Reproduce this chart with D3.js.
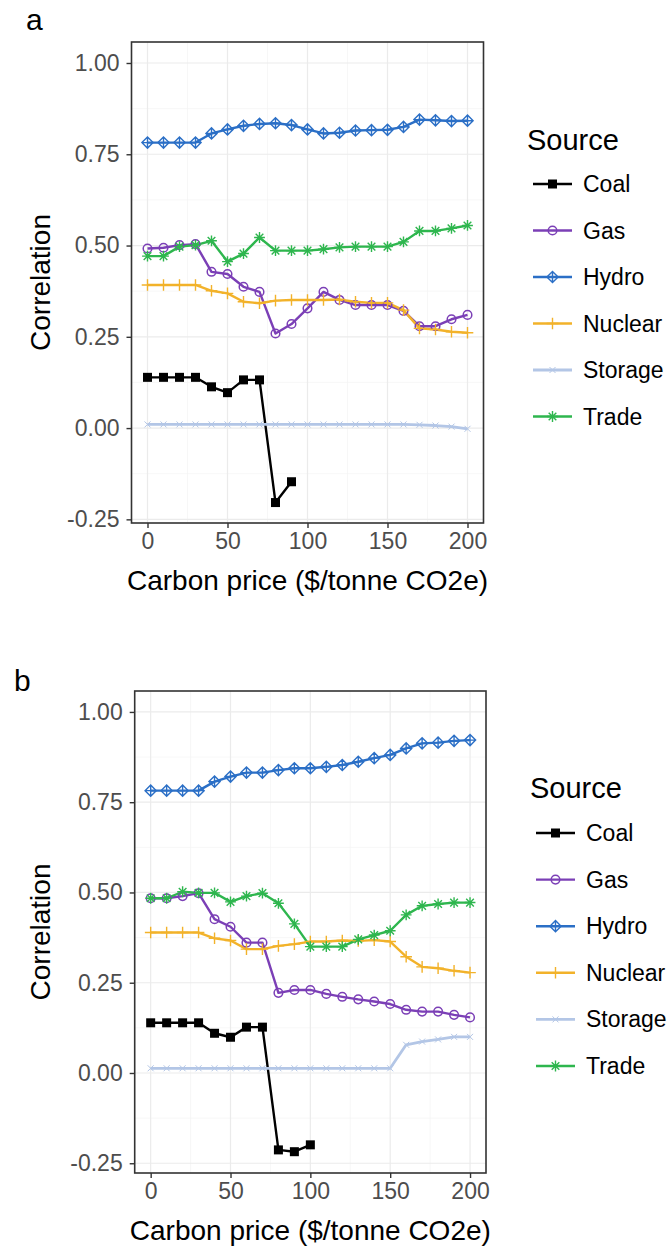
<!DOCTYPE html>
<html>
<head>
<meta charset="utf-8">
<script src="https://cdn.jsdelivr.net/npm/d3@7"></script>
<style>
  html, body { margin: 0; padding: 0; background: #fff; }
  svg { display: block; }
  text { font-family: "Liberation Sans", Arial, Helvetica, sans-serif; }
</style>
</head>
<body>
<svg id="chart" width="670" height="1249"></svg>
<script>
// Carbon price levels ($/tonne CO2e)
const carbonPrice = [0,10,20,30,40,50,60,70,80,90,100,110,120,130,140,150,160,170,180,190,200];

const sources = ["Coal", "Gas", "Hydro", "Nuclear", "Storage", "Trade"];

// Panel a: correlation by source
const coalA    = [0.139,0.139,0.139,0.139,0.113,0.097,0.132,0.132,-0.204,-0.147];
const gasA     = [0.492,0.494,0.501,0.504,0.428,0.422,0.387,0.373,0.259,0.285,0.328,0.373,0.351,0.337,0.337,0.337,0.321,0.279,0.279,0.298,0.310];
const hydroA   = [0.782,0.782,0.782,0.782,0.807,0.818,0.828,0.833,0.835,0.830,0.818,0.807,0.809,0.815,0.816,0.817,0.825,0.845,0.843,0.841,0.842];
const nuclearA = [0.392,0.392,0.392,0.392,0.376,0.369,0.346,0.342,0.349,0.351,0.351,0.351,0.352,0.346,0.343,0.343,0.323,0.273,0.270,0.264,0.261];
const storageA = [0.010,0.010,0.010,0.010,0.010,0.010,0.010,0.010,0.010,0.010,0.010,0.010,0.010,0.010,0.010,0.010,0.010,0.009,0.007,0.004,-0.002];
const tradeA   = [0.471,0.471,0.497,0.501,0.513,0.456,0.478,0.522,0.486,0.486,0.486,0.490,0.495,0.497,0.497,0.497,0.510,0.540,0.540,0.547,0.555];

// Panel b: correlation by source
const coalB    = [0.139,0.139,0.139,0.139,0.110,0.099,0.127,0.127,-0.213,-0.218,-0.199];
const gasB     = [0.484,0.484,0.490,0.498,0.426,0.405,0.361,0.361,0.222,0.230,0.230,0.219,0.211,0.204,0.198,0.191,0.175,0.170,0.170,0.161,0.154];
const hydroB   = [0.782,0.782,0.782,0.782,0.807,0.821,0.832,0.832,0.839,0.844,0.844,0.848,0.853,0.862,0.872,0.881,0.899,0.913,0.915,0.920,0.922];
const nuclearB = [0.389,0.389,0.389,0.389,0.373,0.367,0.343,0.343,0.352,0.357,0.364,0.364,0.367,0.366,0.368,0.364,0.322,0.294,0.290,0.283,0.278];
const storageB = [0.013,0.013,0.013,0.013,0.013,0.013,0.013,0.013,0.013,0.013,0.013,0.013,0.013,0.013,0.013,0.013,0.078,0.087,0.093,0.100,0.100];
const tradeB   = [0.484,0.484,0.502,0.499,0.499,0.474,0.490,0.498,0.470,0.413,0.350,0.350,0.350,0.370,0.382,0.394,0.438,0.463,0.468,0.472,0.472];

// Axis ticks
const xTicks = [0, 50, 100, 150, 200];
const yTicks = [-0.25, 0, 0.25, 0.5, 0.75, 1.0];
const yTickLabels = ["-0.25", "0.00", "0.25", "0.50", "0.75", "1.00"];

const colors = {
  Coal: "#000000",
  Gas: "#7b3fb6",
  Hydro: "#2b6fc6",
  Nuclear: "#f2b22a",
  Storage: "#b3c6e6",
  Trade: "#2eb64e"
};

const svg = d3.select("#chart");

// Marker glyphs per source
function marker(g, src, x, y) {
  const c = colors[src];
  if (src === "Coal") {
    g.append("rect").attr("x", x - 4.5).attr("y", y - 4.5).attr("width", 9).attr("height", 9).attr("fill", c);
  } else if (src === "Gas") {
    g.append("circle").attr("cx", x).attr("cy", y).attr("r", 4.3).attr("fill", "none").attr("stroke", c).attr("stroke-width", 1.5);
  } else if (src === "Hydro") {
    const r = 5.6;
    g.append("path").attr("d", `M${x},${y - r}L${x + r},${y}L${x},${y + r}L${x - r},${y}Z M${x},${y - r}V${y + r} M${x - r},${y}H${x + r}`)
      .attr("fill", "none").attr("stroke", c).attr("stroke-width", 1.4);
  } else if (src === "Nuclear") {
    const r = 5.8;
    g.append("path").attr("d", `M${x},${y - r}V${y + r} M${x - r},${y}H${x + r}`)
      .attr("fill", "none").attr("stroke", c).attr("stroke-width", 1.4);
  } else if (src === "Storage") {
    const r = 3;
    g.append("path").attr("d", `M${x - r},${y - r}L${x + r},${y + r} M${x - r},${y + r}L${x + r},${y - r}`)
      .attr("fill", "none").attr("stroke", c).attr("stroke-width", 1);
  } else if (src === "Trade") {
    const r = 5.4, d = r * 0.707;
    g.append("path").attr("d", `M${x},${y - r}V${y + r} M${x - r},${y}H${x + r} M${x - d},${y - d}L${x + d},${y + d} M${x - d},${y + d}L${x + d},${y - d}`)
      .attr("fill", "none").attr("stroke", c).attr("stroke-width", 1.4);
  }
}

function drawPanel(opt) {
  const { label, labelPos, xRange, yDomain, yRange, series, legend } = opt;
  const x = d3.scaleLinear().domain([-10, 210]).range(xRange);
  const y = d3.scaleLinear().domain(yDomain).range(yRange);
  const [left, right] = xRange;
  const [bottom, top] = yRange;
  const g = svg.append("g");

  // panel background and grid
  g.append("rect").attr("x", left).attr("y", top).attr("width", right - left).attr("height", bottom - top).attr("fill", "#fff");
  const xMinor = [25, 75, 125, 175];
  const yMinor = [-0.125, 0.125, 0.375, 0.625, 0.875];
  g.selectAll(".xminor").data(xMinor).enter().append("line")
    .attr("x1", d => x(d)).attr("x2", d => x(d)).attr("y1", top).attr("y2", bottom)
    .attr("stroke", "#f3f3f3").attr("stroke-width", 0.7);
  g.selectAll(".yminor").data(yMinor).enter().append("line")
    .attr("y1", d => y(d)).attr("y2", d => y(d)).attr("x1", left).attr("x2", right)
    .attr("stroke", "#f3f3f3").attr("stroke-width", 0.7);
  g.selectAll(".xmajor").data(xTicks).enter().append("line")
    .attr("x1", d => x(d)).attr("x2", d => x(d)).attr("y1", top).attr("y2", bottom)
    .attr("stroke", "#ebebeb").attr("stroke-width", 1.2);
  g.selectAll(".ymajor").data(yTicks).enter().append("line")
    .attr("y1", d => y(d)).attr("y2", d => y(d)).attr("x1", left).attr("x2", right)
    .attr("stroke", "#ebebeb").attr("stroke-width", 1.2);

  // lines
  const line = d3.line().x(d => x(d[0])).y(d => y(d[1]));
  sources.forEach(src => {
    const vals = series[src];
    const pts = vals.map((v, i) => [carbonPrice[i], v]);
    g.append("path").datum(pts).attr("d", line)
      .attr("fill", "none").attr("stroke", colors[src])
      .attr("stroke-width", src === "Storage" ? 2.8 : 2.4).attr("stroke-linejoin", "round");
  });
  // points
  sources.forEach(src => {
    const vals = series[src];
    vals.forEach((v, i) => marker(g, src, x(carbonPrice[i]), y(v)));
  });

  // border
  g.append("rect").attr("x", left).attr("y", top).attr("width", right - left).attr("height", bottom - top)
    .attr("fill", "none").attr("stroke", "#333").attr("stroke-width", 1.6);

  // axes
  const xAxis = d3.axisBottom(x).tickValues(xTicks).tickSize(5).tickPadding(5).tickFormat(d3.format("d"));
  const xa = g.append("g").attr("transform", `translate(0,${bottom})`).call(xAxis);
  xa.select(".domain").remove();
  xa.selectAll(".tick line").attr("stroke", "#333").attr("stroke-width", 1.4);
  xa.selectAll(".tick text").attr("fill", "#4d4d4d").style("font-size", "23px")
    .style("font-family", "'Liberation Sans', Arial, sans-serif");

  const yAxis = d3.axisLeft(y).tickValues(yTicks).tickSize(5).tickPadding(7).tickFormat((d, i) => yTickLabels[i]);
  const ya = g.append("g").attr("transform", `translate(${left},0)`).call(yAxis);
  ya.select(".domain").remove();
  ya.selectAll(".tick line").attr("stroke", "#333").attr("stroke-width", 1.4);
  ya.selectAll(".tick text").attr("fill", "#4d4d4d").style("font-size", "23px")
    .style("font-family", "'Liberation Sans', Arial, sans-serif");

  // axis titles
  g.append("text").attr("x", (left + right) / 2).attr("y", bottom + 67).attr("text-anchor", "middle")
    .style("font-size", "28px").attr("fill", "#000").text("Carbon price ($/tonne CO2e)");
  g.append("text").attr("transform", `translate(50,${(top + bottom) / 2}) rotate(-90)`).attr("text-anchor", "middle")
    .style("font-size", "28px").attr("fill", "#000").text("Correlation");

  // panel tag
  g.append("text").attr("x", labelPos[0]).attr("y", labelPos[1]).style("font-size", "30px").attr("fill", "#000").text(label);

  // legend
  const lg = g.append("g");
  lg.append("text").attr("x", legend.x).attr("y", legend.titleY).style("font-size", "29px").attr("fill", "#000").text("Source");
  sources.forEach((src, i) => {
    const cy = legend.y0 + i * legend.step;
    lg.append("line").attr("x1", legend.x + 6).attr("x2", legend.x + 45).attr("y1", cy).attr("y2", cy)
      .attr("stroke", colors[src]).attr("stroke-width", src === "Storage" ? 2.8 : 2.4);
    marker(lg, src, legend.x + 25.5, cy);
    lg.append("text").attr("x", legend.x + 56).attr("y", cy).attr("dy", "0.35em")
      .style("font-size", "23px").attr("fill", "#000").text(src);
  });
}

drawPanel({
  label: "a",
  labelPos: [26, 30],
  xRange: [131.5, 483.5],
  yDomain: [-0.26, 1.0575],
  yRange: [523, 42],
  series: { Coal: coalA, Gas: gasA, Hydro: hydroA, Nuclear: nuclearA, Storage: storageA, Trade: tradeA },
  legend: { x: 527, titleY: 150, y0: 184, step: 46.5 }
});

drawPanel({
  label: "b",
  labelPos: [14, 691],
  xRange: [134.7, 486],
  yDomain: [-0.277, 1.058],
  yRange: [1173, 691],
  series: { Coal: coalB, Gas: gasB, Hydro: hydroB, Nuclear: nuclearB, Storage: storageB, Trade: tradeB },
  legend: { x: 530, titleY: 798, y0: 833, step: 46.6 }
});
</script>
</body>
</html>
